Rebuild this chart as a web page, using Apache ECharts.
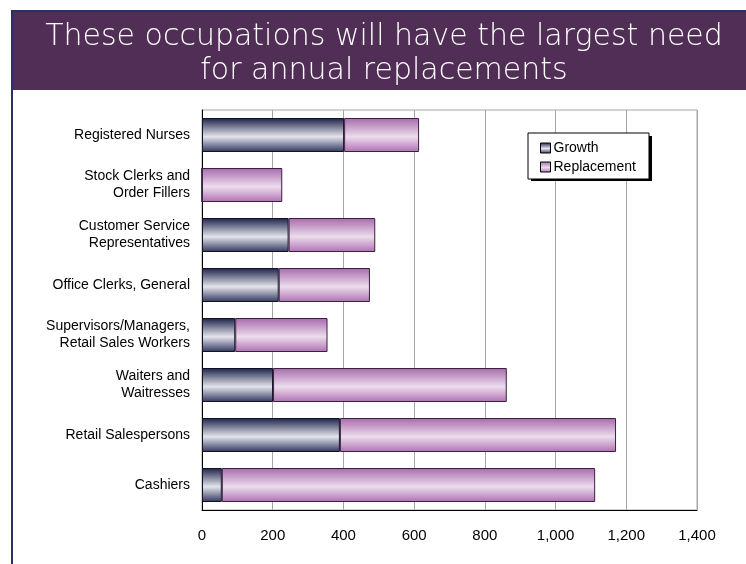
<!DOCTYPE html>
<html>
<head>
<meta charset="utf-8">
<script src="https://cdn.jsdelivr.net/npm/echarts@6/dist/echarts.min.js"></script>
<style>
html,body{margin:0;padding:0;background:#fff;}
#chart{width:746px;height:564px;}
</style>
</head>
<body>
<div id="chart"></div>
<script>
var titleText = 'These occupations will have the largest need\nfor annual replacements';
var categories = [
  'Registered Nurses',
  'Stock Clerks and\nOrder Fillers',
  'Customer Service\nRepresentatives',
  'Office Clerks, General',
  'Supervisors/Managers,\nRetail Sales Workers',
  'Waiters and\nWaitresses',
  'Retail Salespersons',
  'Cashiers'
];
var growth = [402, 0, 245, 217, 94, 201, 390, 56];
var replacement = [212, 227, 245, 258, 261, 661, 781, 1056];
var seriesNames = ['Growth', 'Replacement'];
var xTicks = { min: 0, max: 1400, interval: 200 };

var chart = echarts.init(document.getElementById('chart'));

function grad(edgeTop, mid, edgeBottom) {
  return new echarts.graphic.LinearGradient(0, 0, 0, 1, [
    { offset: 0, color: edgeTop },
    { offset: 0.55, color: mid },
    { offset: 1, color: edgeBottom }
  ]);
}

chart.setOption({
  backgroundColor: '#ffffff',
  animation: false,
  graphic: [
    { type: 'rect', shape: { x: 11, y: 10, width: 735, height: 80 }, style: { fill: '#512e56' }, z: 0 },
    { type: 'rect', shape: { x: 11, y: 10, width: 735, height: 2 }, style: { fill: '#2a2f66' }, z: 1 },
    { type: 'rect', shape: { x: 11, y: 10, width: 2, height: 554 }, style: { fill: '#2a2f66' }, z: 1 },
    { type: 'rect', shape: { x: 531, y: 136, width: 121, height: 45 }, style: { fill: '#000000' }, z: 1 }
  ],
  title: {
    text: titleText,
    left: 379,
    top: 15,
    textAlign: 'center',
    textStyle: {
      color: '#ffffff',
      fontFamily: 'DejaVu Sans',
      fontWeight: 200,
      fontSize: 30,
      lineHeight: 34
    }
  },
  legend: {
    orient: 'vertical',
    left: 528,
    top: 133,
    data: seriesNames,
    icon: 'rect',
    itemWidth: 10,
    itemHeight: 10,
    itemGap: 5,
    padding: [8, 13, 5, 12],
    backgroundColor: '#ffffff',
    borderColor: '#000000',
    borderWidth: 1,
    borderRadius: 0,
    textStyle: { fontFamily: 'Liberation Sans', fontSize: 14, color: '#000', padding: [0, 0, 0, -2] },
    itemStyle: { borderColor: '#000', borderWidth: 1 }
  },
  grid: {
    left: 202,
    top: 110,
    right: 49,
    bottom: 54,
    show: true,
    borderColor: '#a6a6a6',
    borderWidth: 1,
    containLabel: false
  },
  xAxis: {
    type: 'value',
    min: xTicks.min,
    max: xTicks.max,
    interval: xTicks.interval,
    axisLine: { show: true, lineStyle: { color: '#000', width: 1 } },
    axisTick: { show: false },
    axisLabel: {
      margin: 18,
      fontFamily: 'Liberation Sans',
      fontSize: 15,
      color: '#000',
      formatter: function (v) { return v.toLocaleString('en-US'); }
    },
    splitLine: { show: true, lineStyle: { color: '#a6a6a6', width: 1 } }
  },
  yAxis: {
    type: 'category',
    data: categories,
    inverse: true,
    axisLine: { show: true, lineStyle: { color: '#000', width: 1 } },
    axisTick: { show: false },
    axisLabel: {
      margin: 12,
      fontFamily: 'Liberation Sans',
      fontSize: 14,
      lineHeight: 17,
      color: '#000',
      align: 'right'
    },
    splitLine: { show: false }
  },
  series: [
    {
      name: seriesNames[0],
      type: 'bar',
      stack: 'total',
      barWidth: 34,
      data: growth,
      itemStyle: {
        color: grad('#1c2148', '#e4e4ec', '#30355e'),
        borderColor: '#111122',
        borderWidth: 1
      }
    },
    {
      name: seriesNames[1],
      type: 'bar',
      stack: 'total',
      barWidth: 34,
      data: replacement,
      itemStyle: {
        color: grad('#a86aac', '#ecdcec', '#b070b2'),
        borderColor: '#3a2040',
        borderWidth: 1
      }
    }
  ]
});
</script>
</body>
</html>
